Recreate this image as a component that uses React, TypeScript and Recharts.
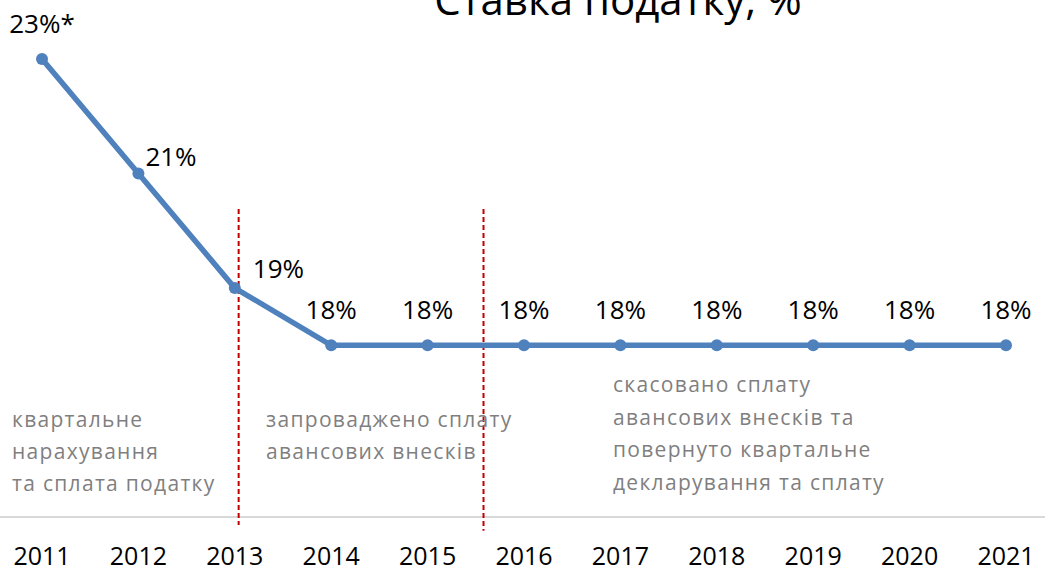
import {
  LineChart,
  Line,
  XAxis,
  YAxis,
  ReferenceLine,
  LabelList,
} from "recharts";

const years = ["2011", "2012", "2013", "2014", "2015", "2016", "2017", "2018", "2019", "2020", "2021"];
const rates = [23, 21, 19, 18, 18, 18, 18, 18, 18, 18, 18];
const rateLabels = ["23%*", "21%", "19%", "18%", "18%", "18%", "18%", "18%", "18%", "18%", "18%"];

// moments of the payment-rule changes on the timeline (fractional year)
const reformPoints = [2013.04, 2015.58];

const notePeriod1 = ["квартальне", "нарахування", "та сплата податку"];
const notePeriod2 = ["запроваджено сплату", "авансових внесків"];
const notePeriod3 = ["скасовано сплату", "авансових внесків та", "повернуто квартальне", "декларування та сплату"];

const W = 1045;
const H = 572;
const FONT = "'Open Sans', sans-serif";
const BLUE = "#4f81bd";

const data = years.map((y, i) => ({
  year: y,
  yr: Number(y),
  rate: rates[i],
  label: rateLabels[i],
}));

function RateLabel(props: any) {
  const { x, y, index, value } = props;
  let anchor = "middle";
  let dx = 0;
  let dy = -26;
  if (index === 1) {
    anchor = "start";
    dx = 7;
    dy = -8;
  } else if (index === 2) {
    anchor = "start";
    dx = 18;
    dy = -10;
  }
  return (
    <text x={x + dx} y={y + dy} textAnchor={anchor} fontSize={26} fontFamily={FONT} fill="#000">
      {value}
    </text>
  );
}

function Note({ lines, x, y0, step }: { lines: string[]; x: number; y0: number; step: number }) {
  return (
    <text x={x} y={y0} fontSize={21} fontFamily={FONT} fill="#7f7f7f" letterSpacing={1.3}>
      {lines.map((l, i) => (
        <tspan key={i} x={x} y={y0 + i * step}>
          {l}
        </tspan>
      ))}
    </text>
  );
}

export default function App() {
  return (
    <div style={{ position: "absolute", left: 0, top: 0, width: W, height: H, background: "#fff" }}>
      <LineChart width={W} height={H} data={data} margin={{ top: 59, right: 39, bottom: 15, left: 42 }}>
        <XAxis
          dataKey="year"
          scale="point"
          padding={{ left: 0, right: 0 }}
          height={40}
          axisLine={false}
          tickLine={false}
          tickSize={0}
          tickMargin={30}
          interval={0}
          tick={{ fill: "#000", fontSize: 25, fontFamily: FONT }}
        />
        <XAxis xAxisId="num" type="number" dataKey="yr" domain={[2011, 2021]} hide />
        <YAxis type="number" domain={[15, 23]} hide allowDataOverflow />
        <ReferenceLine
          y={15}
          stroke="#d9d9d9"
          strokeWidth={2}
          shape={(p: any) => <line x1={0} y1={p.y1} x2={W} y2={p.y2} stroke="#d9d9d9" strokeWidth={2} />}
        />
        {reformPoints.map((r, i) => (
          <ReferenceLine
            key={r}
            xAxisId="num"
            ifOverflow="visible"
            segment={[
              { x: r, y: 20.38 },
              { x: r, y: i === 0 ? 14.86 : 14.76 },
            ]}
            stroke="#c00000"
            strokeWidth={2}
            strokeDasharray="5 3"
          />
        ))}
        <Line
          type="linear"
          dataKey="rate"
          stroke={BLUE}
          strokeWidth={5.5}
          dot={{ r: 6, fill: BLUE, stroke: BLUE, strokeWidth: 0, clipDot: false }}
          isAnimationActive={false}
        >
          <LabelList dataKey="label" content={<RateLabel />} />
        </Line>
      </LineChart>
      <svg
        width={W}
        height={H}
        style={{ position: "absolute", left: 0, top: 0, pointerEvents: "none" }}
      >
        <text x={618} y={15} textAnchor="middle" fontSize={42} fontFamily={FONT} fill="#000">
          Ставка податку, %
        </text>
        <Note lines={notePeriod1} x={12} y0={427} step={32} />
        <Note lines={notePeriod2} x={266} y0={427} step={32} />
        <Note lines={notePeriod3} x={613} y0={392} step={32.7} />
      </svg>
    </div>
  );
}
